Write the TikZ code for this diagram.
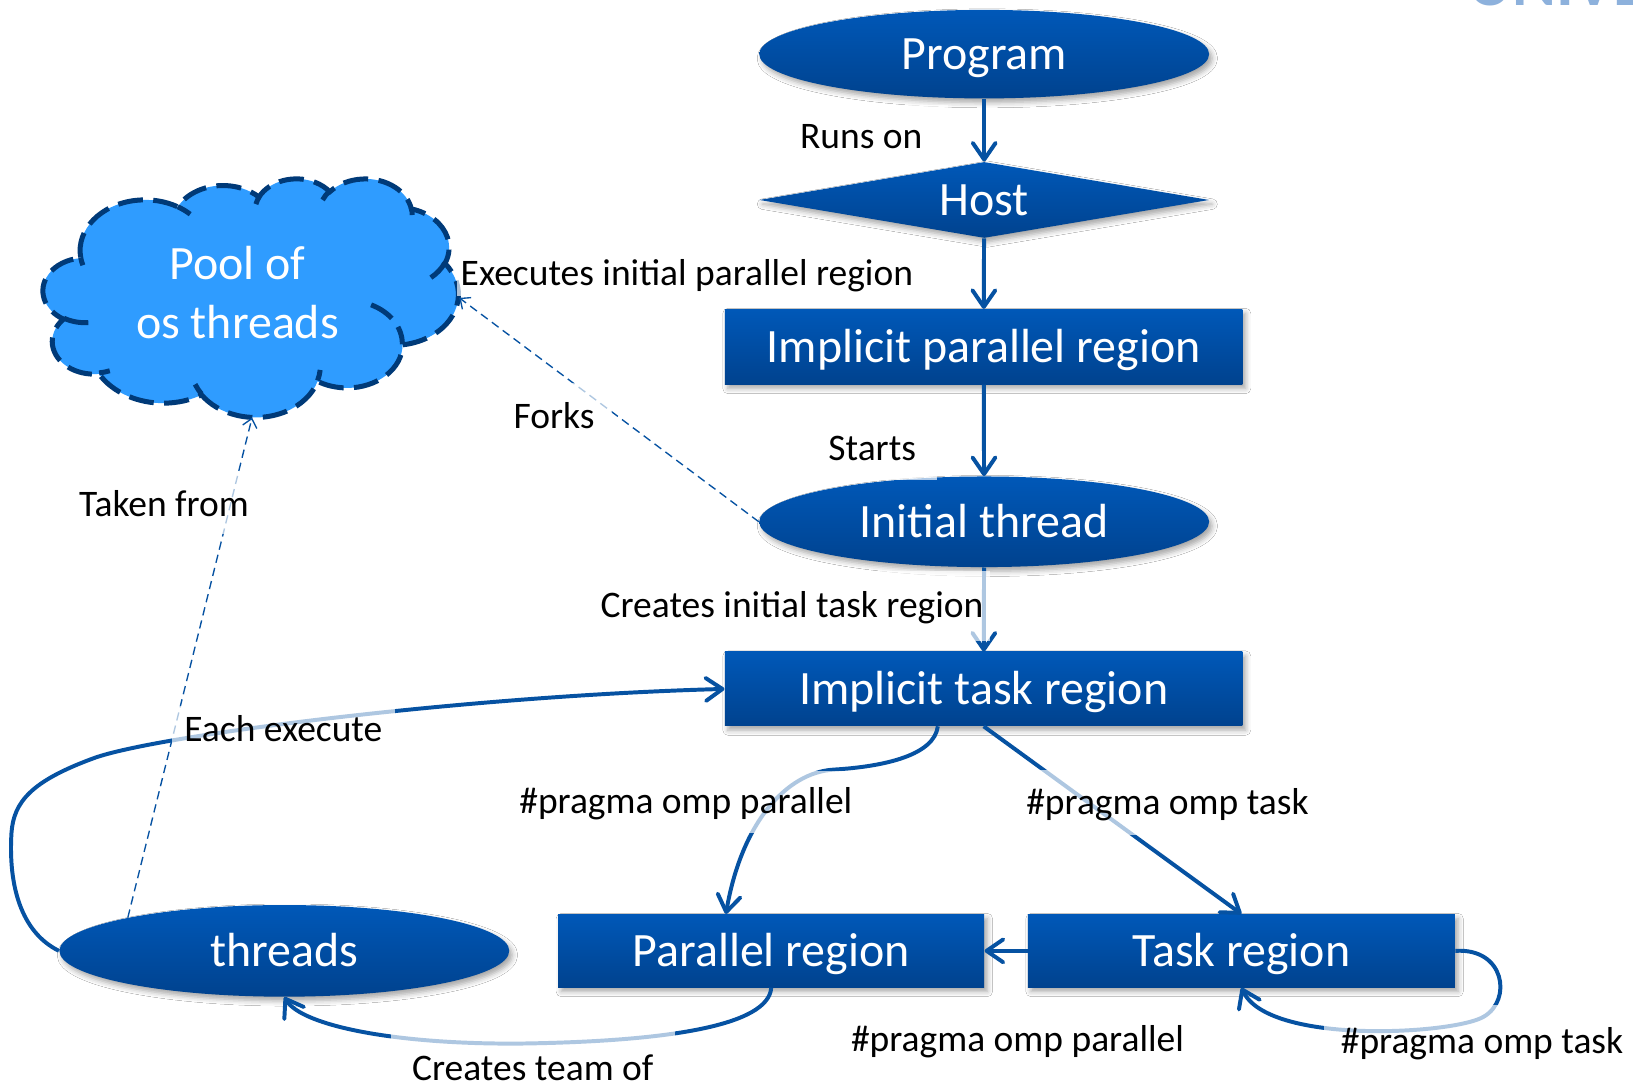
\documentclass[tikz,border=0pt]{standalone}
\usepackage{fontspec}
\setmainfont{Carlito}
\usetikzlibrary{shapes.geometric,arrows.meta,shadows.blur}
\definecolor{boxtop}{RGB}{0,88,184}
\definecolor{boxbot}{RGB}{0,66,142}
\definecolor{wire}{RGB}{6,82,162}
\definecolor{cloudfill}{RGB}{47,156,255}
\definecolor{cloudline}{RGB}{0,58,120}
\definecolor{logoblue}{RGB}{141,177,220}
\newcommand\shapefont{\fontsize{23}{28}\selectfont}
\newcommand\labelfont{\fontsize{18}{21.5}\selectfont}
\begin{document}
\begin{tikzpicture}[x=0.5pt,y=-0.5pt,
  blk/.style={text=white, font=\shapefont, inner sep=0pt,
    text height=18.4pt, text depth=3.7pt,
    top color=boxtop, bottom color=boxbot, draw=none,
    blur shadow={shadow xshift=1.5pt, shadow yshift=-2pt,
      shadow blur radius=2.5pt, shadow opacity=35}},
  oval/.style={blk, ellipse},
  box/.style={blk, rectangle},
  rhomb/.style={blk, diamond, aspect=6},
  conn/.style={draw=wire, line width=1.9pt,
    -{Straight Barb[length=8pt,width=11pt,round]}},
  hint/.style={draw=wire, line width=0.65pt, dash pattern=on 4pt off 2.5pt,
    -{Straight Barb[length=4pt,width=7pt]}},
  lbl/.style={font=\labelfont, text=black, fill=white, fill opacity=0.68,
    text opacity=1, inner sep=2pt, text height=14.4pt, text depth=2.9pt},
  cloudedge/.style={draw=cloudline, line width=2.4pt, dash pattern=on 12pt off 5pt},
  % elliptical arc given by radii, start angle and sweep measured on the ellipse
  ooarc/.style n args={4}{insert path={arc[x radius=#1, y radius=#2,
      start angle={atan2((#1)*sin(#3),(#2)*cos(#3))},
      delta angle={mod(atan2((#1)*sin((#3)+(#4)),(#2)*cos((#3)+(#4)))-atan2((#1)*sin(#3),(#2)*cos(#3))+720,360)}]}},
]
\path[use as bounding box, fill=white] (0,0) rectangle (1568,1045);

% partial logo lettering at the top edge
\node[font=\fontsize{32}{32}\selectfont\bfseries, text=logoblue, anchor=base west,
  inner sep=0pt] (logo) at (1410,5.5) {UNIVE};

% cloud: pool of os threads
\begin{scope}[shift={(41.5,171)}, x=0.46123pt, y=-0.26505pt]
  \path[fill=cloudfill, cloudedge] (39,143.7)
    [ooarc={67.53}{91.90}{-190.4875}{123.7805}]
    [ooarc={53.33}{72.67}{-144.1024}{89.9452}]
    [ooarc={43.65}{59.45}{-145.8079}{99.7230}]
    [ooarc={48.57}{65.95}{-130.9861}{117.2417}]
    [ooarc={53.33}{72.73}{-78.7089}{109.0269}]
    [ooarc={67.75}{92.20}{-46.2673}{130.2690}]
    [ooarc={57.85}{78.67}{0.6250}{114.0333}]
    [ooarc={67.52}{92.15}{22.4516}{115.1726}]
    [ooarc={77.20}{105.43}{66.2426}{75.7110}]
    [ooarc={43.60}{59.18}{-274.9421}{146.7356}]
    [ooarc={43.45}{59.45}{-246.8285}{152.5189}] -- cycle;
  \path[cloudedge]
    (46.93,261.77) [ooarc={43.45}{59.45}{86.7420}{26.4295}]
    (69.28,348.99) [ooarc={43.60}{59.18}{73.6105}{11.4475}]
    (164.78,390.90) [ooarc={67.52}{92.15}{137.6242}{14.0811}]
    (288.27,347.51) [ooarc={67.52}{92.15}{6.4533}{15.9984}]
    (341.29,229.54) [ooarc={57.85}{78.67}{-70.2924}{70.9174}]
    (417.98,153.54) [ooarc={53.33}{72.73}{30.3180}{27.7515}]
    (383.24,54.26) [ooarc={48.57}{65.95}{-13.7443}{14.8589}]
    (290.78,39.52) [ooarc={48.57}{65.95}{-149.1815}{18.1954}]
    (221.41,47.20) [ooarc={43.65}{59.45}{-163.4943}{17.6864}]
    (140.00,51.92) [ooarc={67.53}{91.90}{-66.7070}{12.3194}]
    (41.27,157.89) [ooarc={67.53}{91.90}{157.6544}{11.8582}];
\end{scope}
\node[font=\shapefont, text=white, align=center, inner sep=0pt] (pool) at (228,281)
  {Pool of\\os threads};
\coordinate (poolE) at (441,286);
\coordinate (poolS) at (242,401);

% flow shapes
\node[oval, minimum width=216pt, minimum height=42.5pt] (prog) at (945,52) {Program};
\node[rhomb, minimum width=216pt, minimum height=36.5pt] (host) at (945,192) {Host};
\node[box, minimum width=248.5pt, minimum height=36pt] (ipr) at (944.5,333) {Implicit parallel region};
\node[oval, minimum width=216pt, minimum height=43.5pt] (ith) at (945,501) {Initial thread};
\node[box, minimum width=248.5pt, minimum height=35.5pt] (itr) at (944.5,661.5) {Implicit task region};
\node[box, minimum width=204.5pt, minimum height=35pt] (par) at (740.5,913) {Parallel region};
\node[box, minimum width=205pt, minimum height=35pt] (task) at (1192,913) {Task region};
\node[oval, minimum width=216pt, minimum height=44pt] (thr) at (273,913) {threads};

% connectors
\draw[conn] (prog) -- (host);
\draw[conn] (host) -- (ipr);
\draw[conn] (ipr) -- (ith);
\draw[conn] (ith) -- (itr);
\draw[hint] (ith.west) -- (poolE);
\draw[hint] (thr.168) -- (poolS);
\draw[conn] (thr.west) .. controls (20,895) and (8,850) .. (11,800)
  .. controls (13,770) and (30,750) .. (90,728)
  .. controls (150,706) and (450,668) .. (itr.west);
\draw[conn] ([xshift=-22pt]itr.south) .. controls (897,725) and (850,736) .. (800,739)
  .. controls (755,742) and (712,790) .. ([xshift=-21.75pt]par.north);
\draw[conn] (itr.south) -- (task.north);
\draw[conn] (task.west) -- (par.east);
\draw[conn] (task.east) .. controls (1445,910) and (1452,960) .. (1425,976)
  .. controls (1398,993) and (1218,1004) .. (task.south);
\draw[conn] (par.south) .. controls (738,985) and (640,1000) .. (500,1002)
  .. controls (380,1003) and (290,985) .. (thr.south);

% labels
\node[lbl, minimum width=83pt, minimum height=30.5pt] (lruns) at (827,131) {Runs on};
\node[lbl, anchor=west] (lexec) at (438,263) {Executes initial parallel region};
\node[lbl, minimum width=62.5pt, minimum height=30.5pt] (lstarts) at (837.5,430.5) {Starts};
\node[lbl, minimum width=190.5pt, minimum height=33.5pt] (lcreate) at (760.5,581.5) {Creates initial task region};
\node[lbl, minimum width=56pt, minimum height=32pt] (lforks) at (532,400) {Forks};
\node[lbl, minimum width=87.5pt, minimum height=29pt] (ltaken) at (157.5,484) {Taken from};
\node[lbl, minimum width=107pt, minimum height=22pt] (leach) at (272,700) {Each execute};
\node[lbl, minimum width=163.5pt, minimum height=30pt] (lppar) at (658.5,770) {\#pragma omp parallel};
\node[lbl, minimum width=141pt, minimum height=31.5pt] (lptask) at (1121,770.5) {\#pragma omp task};
\node[lbl] (lppar2) at (977,998) {\#pragma omp parallel};
\node[lbl, minimum width=152pt, minimum height=35pt] (lptask2) at (1423,1000) {\#pragma omp task};
\node[lbl, minimum width=136.5pt, minimum height=36pt] (lteam) at (511.5,1026) {Creates team of};
\end{tikzpicture}
\end{document}
